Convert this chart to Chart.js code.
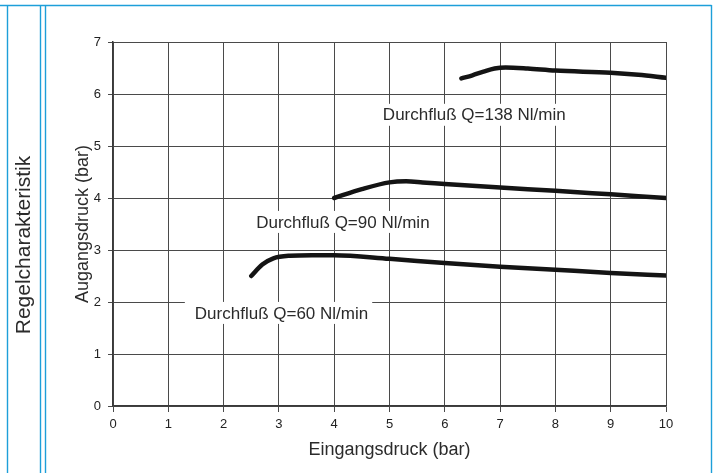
<!DOCTYPE html>
<html>
<head>
<meta charset="utf-8">
<script src="https://cdn.jsdelivr.net/npm/chart.js@4/dist/chart.umd.min.js"></script>
<style>
html,body{margin:0;padding:0;background:#fff;}
#wrap{width:715px;height:473px;position:relative;}
canvas{display:block;}
</style>
</head>
<body>
<div id="wrap"><canvas id="c" width="715" height="473"></canvas></div>
<script>
// ---- data ----
const xTicks = [0,1,2,3,4,5,6,7,8,9,10];
const yTicks = [0,1,2,3,4,5,6,7];

const q60X = [2.5, 2.7, 2.9, 3.2, 3.6, 4.0, 5.0, 6.0, 7.0, 8.0, 9.0, 10.0];
const q60Y = [2.5, 2.72, 2.84, 2.89, 2.9, 2.9, 2.83, 2.75, 2.68, 2.62, 2.56, 2.51];

const q90X = [4.0, 4.5, 5.0, 5.3, 5.6, 6.0, 7.0, 8.0, 9.0, 10.0];
const q90Y = [4.0, 4.17, 4.3, 4.32, 4.3, 4.27, 4.2, 4.14, 4.07, 4.0];

const q138X = [6.3, 6.5, 6.7, 6.9, 7.1, 7.5, 8.0, 9.0, 9.5, 10.0];
const q138Y = [6.3, 6.36, 6.43, 6.49, 6.51, 6.49, 6.45, 6.41, 6.37, 6.31];

const labelTexts = ['Durchfluß Q=60 Nl/min', 'Durchfluß Q=90 Nl/min', 'Durchfluß Q=138 Nl/min'];
const labelX = [1.48, 2.59, 4.88];
const labelY = [1.79, 3.54, 5.6];

const xTitle = 'Eingangsdruck (bar)';
const yTitle = 'Augangsdruck (bar)';
const sideTitle = 'Regelcharakteristik';

const FONT = "'Liberation Sans', Arial, Helvetica, sans-serif";
const frameColor = '#1d9fd9';

function pts(xs, ys){ return xs.map((x,i)=>({x:x, y:ys[i]})); }

const curveStyle = {
  borderColor:'#141414', borderWidth:4.5, pointRadius:0, fill:false,
  showLine:true, cubicInterpolationMode:'monotone', borderCapStyle:'round', borderJoinStyle:'round'
};

const decoPlugin = {
  id:'deco',
  beforeDatasetsDraw(chart){
    const ctx = chart.ctx, xs = chart.scales.x, ys = chart.scales.y;
    ctx.save();
    ctx.font = '17px ' + FONT;
    ctx.textBaseline = 'middle';
    ctx.textAlign = 'left';
    for (let i=0;i<labelTexts.length;i++){
      const px = xs.getPixelForValue(labelX[i]);
      const py = ys.getPixelForValue(labelY[i]);
      const w = ctx.measureText(labelTexts[i]).width;
      ctx.fillStyle = '#fff';
      ctx.fillRect(px-10, py-11, w+14, 22);
      ctx.fillStyle = '#2b2b2b';
      ctx.fillText(labelTexts[i], px, py+1);
    }
    ctx.restore();
  },
  afterDraw(chart){
    const ctx = chart.ctx;
    ctx.save();
    ctx.strokeStyle = frameColor;
    ctx.lineWidth = 1.4;
    ctx.beginPath();
    ctx.moveTo(0,5.5); ctx.lineTo(711.5,5.5);
    ctx.moveTo(711.5,5); ctx.lineTo(711.5,473);
    ctx.moveTo(7.5,5); ctx.lineTo(7.5,473);
    ctx.moveTo(40.5,5); ctx.lineTo(40.5,473);
    ctx.moveTo(45.5,5); ctx.lineTo(45.5,473);
    ctx.stroke();
    ctx.translate(30,245);
    ctx.rotate(-Math.PI/2);
    ctx.font = '21px ' + FONT;
    ctx.fillStyle = '#2b2b2b';
    ctx.textAlign = 'center';
    ctx.textBaseline = 'alphabetic';
    ctx.fillText(sideTitle, 0, 0);
    ctx.restore();
  }
};

new Chart(document.getElementById('c'), {
  type:'scatter',
  data:{
    datasets:[
      Object.assign({label:labelTexts[0], data:pts(q60X,q60Y)}, curveStyle),
      Object.assign({label:labelTexts[1], data:pts(q90X,q90Y)}, curveStyle),
      Object.assign({label:labelTexts[2], data:pts(q138X,q138Y)}, curveStyle)
    ]
  },
  options:{
    responsive:false, animation:false, devicePixelRatio:1,
    layout:{padding:{left:0, top:42, right:49, bottom:0}},
    plugins:{legend:{display:false}, tooltip:{enabled:false}},
    scales:{
      x:{
        type:'linear', min:xTicks[0], max:xTicks[xTicks.length-1],
        afterBuildTicks(s){ s.ticks = xTicks.map(v=>({value:v})); },
        ticks:{color:'#222', font:{size:13, family:FONT}, padding:5, maxRotation:0, autoSkip:false},
        grid:{color:'#4a4a4a', lineWidth:1, tickLength:6},
        border:{color:'#3a3a3a', width:1.5},
        title:{display:true, text:xTitle, color:'#2b2b2b', font:{size:18, family:FONT}, padding:{top:0, bottom:12}},
        afterFit(s){ s.height = 67; }
      },
      y:{
        type:'linear', min:yTicks[0], max:yTicks[yTicks.length-1],
        afterBuildTicks(s){ s.ticks = yTicks.map(v=>({value:v})); },
        ticks:{color:'#222', font:{size:13, family:FONT}, padding:7},
        grid:{color:'#4a4a4a', lineWidth:1, tickLength:5},
        border:{color:'#3a3a3a', width:1.5},
        title:{display:true, text:yTitle, color:'#2b2b2b', font:{size:18, family:FONT}, padding:{top:72, bottom:0}},
        afterFit(s){ s.width = 113; }
      }
    }
  },
  plugins:[decoPlugin]
});
</script>
</body>
</html>
